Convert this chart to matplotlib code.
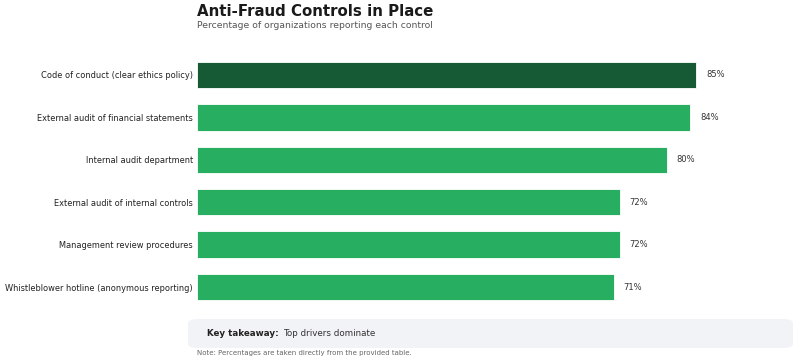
import matplotlib
matplotlib.use("Agg")
import matplotlib.pyplot as plt
from matplotlib.patches import FancyBboxPatch

categories = [
    "Code of conduct (clear ethics policy)",
    "External audit of financial statements",
    "Internal audit department",
    "External audit of internal controls",
    "Management review procedures",
    "Whistleblower hotline (anonymous reporting)",
]
values = [85, 84, 80, 72, 72, 71]
colors = ["#165a35", "#27ae60", "#27ae60", "#27ae60", "#27ae60", "#27ae60"]

W, H = 800, 362
fig = plt.figure(figsize=(W / 100, H / 100), dpi=100)
ax = fig.add_axes([197 / W, 1 - 308.25 / H, (784 - 197) / W, (308.25 - 53.75) / H])

y = list(range(len(categories)))
ax.barh(y, values, height=0.62, color=colors, edgecolor="white", linewidth=0.6)
ax.set_xlim(0, 100)
ax.set_ylim(len(categories) - 0.5, -0.5)
ax.set_yticks(y)
ax.set_yticklabels(categories, fontsize=5.95, color="#222222")
ax.tick_params(axis="y", length=0, pad=3)
ax.set_xticks([])
for s in ax.spines.values():
    s.set_visible(False)

for yi, v in zip(y, values):
    ax.text(v + 1.7, yi, f"{v}%", va="center", ha="left", fontsize=6.0, color="#333333")

fig.text(197 / W, 1 - 12 / H, "Anti-Fraud Controls in Place", fontsize=10.8, fontweight="bold",
         color="#1a1a1a", va="center", ha="left")
fig.text(197 / W, 1 - 25 / H, "Percentage of organizations reporting each control", fontsize=6.7,
         color="#555555", va="center", ha="left")

box = FancyBboxPatch((188 / W, 1 - 348 / H), (793 - 188) / W, 29 / H,
                     boxstyle="round,pad=0,rounding_size=0.012",
                     transform=fig.transFigure, facecolor="#f2f3f7", edgecolor="none")
fig.patches.append(box)
fig.text(207 / W, 1 - 333.5 / H, "Key takeaway:", fontsize=6.3, fontweight="bold",
         color="#222222", va="center", ha="left")
fig.text(283 / W, 1 - 333.5 / H, "Top drivers dominate", fontsize=6.3,
         color="#333333", va="center", ha="left")
fig.text(197 / W, 1 - 352.5 / H, "Note: Percentages are taken directly from the provided table.",
         fontsize=5, color="#666666", va="center", ha="left")

fig.savefig("out.png", dpi=100)
